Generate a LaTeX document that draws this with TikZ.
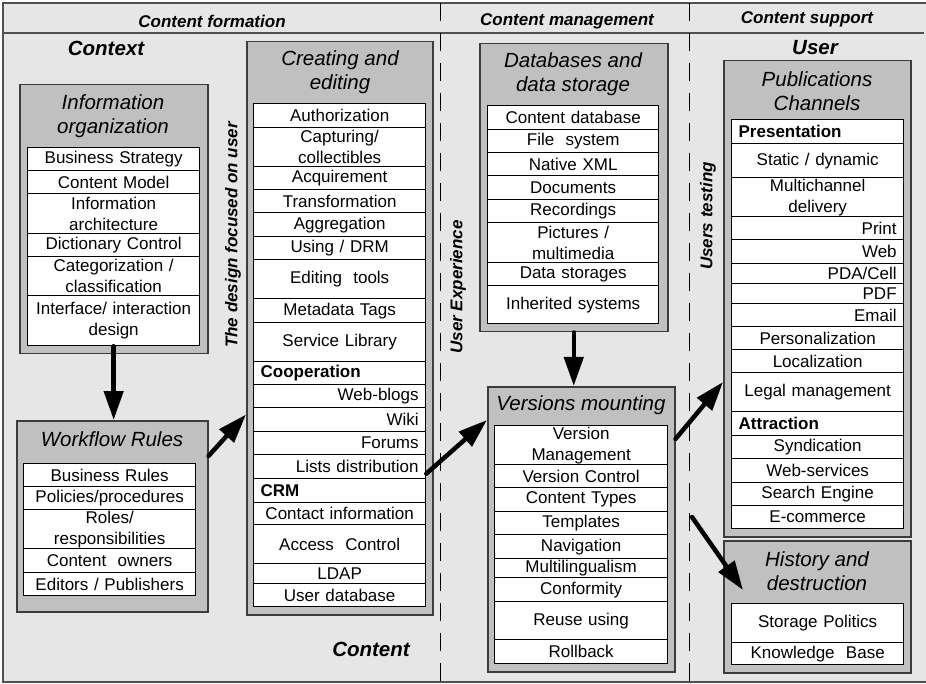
\documentclass[tikz,border=0pt]{standalone}
\usepackage{fontspec}
\setmainfont{Liberation Sans}
\usetikzlibrary{arrows.meta,calc}
\definecolor{bgc}{HTML}{E6E6E6}
\definecolor{boxfill}{HTML}{C0C0C0}
\definecolor{boxline}{HTML}{3C3C3C}
\definecolor{frameline}{HTML}{505050}
\tikzset{
  row/.style={draw=black, fill=white, line width=1.3pt, inner ysep=0pt, font=\fontsize{17}{21}\selectfont},
  cc/.style={align=center},
  rr/.style={align=right},
  bl/.style={align=left, font=\fontsize{17}{21}\selectfont\bfseries},
  cont/.style={draw=boxline, fill=boxfill, line width=1.5pt, inner sep=0pt},
  ttl/.style={font=\fontsize{20.5}{24.5}\selectfont\itshape, align=center, inner sep=0pt},
  sect/.style={font=\fontsize{20.5}{24}\selectfont\bfseries\itshape, inner sep=0pt},
  hdr/.style={font=\fontsize{17}{20}\selectfont\bfseries\itshape, inner sep=0pt},
  vlab/.style={font=\fontsize{17}{20}\selectfont\bfseries\itshape, rotate=90, inner sep=0pt},
  flow/.style={line width=4.5pt, -{Triangle[length=29pt,width=19pt]}, line cap=round},
  sepline/.style={draw=black, line width=1pt, dash pattern=on 18pt off 12pt},
}
\newcommand\rowbase[8]{%
  \pgfmathsetmacro\rbw{#6-#4-2*#3}\pgfmathsetmacro\rbh{#7-#5}%
  \node[row,#2,inner xsep=#3pt,text width=\rbw pt,minimum height=\rbh pt,anchor=north west] (#1) at (#4,#5) {#8};}
\newcommand\rowc[6]{\rowbase{#1}{cc}{2}{#2}{#3}{#4}{#5}{#6}}
\newcommand\rowr[6]{\rowbase{#1}{rr}{7}{#2}{#3}{#4}{#5}{#6}}
\newcommand\rowl[6]{\rowbase{#1}{bl}{7}{#2}{#3}{#4}{#5}{#6}}
\newcommand\contb[5]{%
  \pgfmathsetmacro\cbw{#4-#2}\pgfmathsetmacro\cbh{#5-#3}%
  \node[cont, minimum width=\cbw pt, minimum height=\cbh pt, anchor=north west] (#1) at (#2,#3) {};}

\begin{document}
\begin{tikzpicture}[x=1pt,y=-1pt]
\useasboundingbox (0,0) rectangle (926,684);
% frame and header
\draw[frameline, fill=bgc, line width=2pt] (3,3) rectangle (932,682);
\draw[frameline, line width=1.2pt] (3,33) -- (924,33);
\draw[sepline] (440,3) -- (440,682);
\draw[sepline] (689,3) -- (689,682);
\node[hdr] (h1) at (212,21) {Content formation};
\node[hdr] (h2) at (567,21) {Content management};
\node[hdr] (h3) at (807,19) {Content support};
\node[sect] (s1) at (106,48) {Context};
\node[sect] (s2) at (815,48) {User};
\node[sect] (s3) at (371,649) {Content};
\node[vlab] (v1) at (233,235) {The design focused on user};
\node[vlab] (v2) at (458,287) {User Experience};
\node[vlab] (v3) at (708,216) {Users testing};

% Information organization
\contb{io}{19}{84}{207}{353}
\node[ttl] (iot) at (113,116) {Information\\organization};
\rowc{io1}{27}{147}{199}{170}{Business Strategy}
\rowc{io2}{27}{170}{199}{193}{Content Model}
\rowc{io3}{27}{193}{199}{233}{Information\\architecture}
\rowc{io4}{27}{233}{199}{256}{Dictionary Control}
\rowc{io5}{27}{256}{199}{295}{Categorization /\\classification}
\rowc{io6}{27}{295}{199}{345}{Interface/ interaction\\design}

% Workflow rules
\contb{wf}{16}{420}{207}{611}
\node[ttl] (wft) at (112,439) {Workflow Rules};
\rowc{wf1}{23}{463}{195}{486}{Business Rules}
\rowc{wf2}{23}{486}{195}{509}{Policies/procedures}
\rowc{wf3}{23}{509}{195}{548}{Roles/\\responsibilities}
\rowc{wf4}{23}{548}{195}{572}{Content~ owners}
\rowc{wf5}{23}{572}{195}{595}{Editors / Publishers}

% Creating and editing
\contb{ce}{246}{41}{432}{614}
\node[ttl] (cet) at (340,72) {Creating and\\editing};
\rowc{ce1}{253}{103}{425}{127}{Authorization}
\rowc{ce2}{253}{127}{425}{166}{Capturing/\\collectibles}
\rowc{ce3}{253}{166}{425}{189}{Acquirement}
\rowc{ce4}{253}{189}{425}{212}{Transformation}
\rowc{ce5}{253}{212}{425}{236}{Aggregation}
\rowc{ce6}{253}{236}{425}{259}{Using / DRM}
\rowc{ce7}{253}{259}{425}{298}{Editing~ tools}
\rowc{ce8}{253}{298}{425}{322}{Metadata Tags}
\rowc{ce9}{253}{322}{425}{361}{Service Library}
\rowl{ce10}{253}{361}{425}{384}{Cooperation}
\rowr{ce11}{253}{384}{425}{407}{Web-blogs}
\rowr{ce12}{253}{407}{425}{431}{Wiki}
\rowr{ce13}{253}{431}{425}{454}{Forums}
\rowr{ce14}{253}{454}{425}{478}{Lists distribution}
\rowl{ce15}{253}{478}{425}{502}{CRM}
\rowc{ce16}{253}{502}{425}{524}{Contact information}
\rowc{ce17}{253}{524}{425}{563}{Access~ Control}
\rowc{ce18}{253}{563}{425}{583}{LDAP}
\rowc{ce19}{253}{583}{425}{606}{User database}

% Databases and data storage
\contb{db}{479}{43}{667}{331}
\node[ttl] (dbt) at (573,74) {Databases and\\data storage};
\rowc{db1}{487}{105}{658}{129}{Content database}
\rowc{db2}{487}{129}{658}{152}{File~ system}
\rowc{db3}{487}{152}{658}{175}{Native XML}
\rowc{db4}{487}{175}{658}{199}{Documents}
\rowc{db5}{487}{199}{658}{222}{Recordings}
\rowc{db6}{487}{222}{658}{262}{Pictures /\\multimedia}
\rowc{db7}{487}{262}{658}{285}{Data storages}
\rowc{db8}{487}{285}{658}{323}{Inherited systems}

% Versions mounting
\contb{vm}{487}{386}{674}{671}
\node[ttl] (vmt) at (581,405) {Versions mounting};
\rowc{vm1}{494}{425}{667}{464}{Version\\Management}
\rowc{vm2}{494}{464}{667}{487}{Version Control}
\rowc{vm3}{494}{487}{667}{511}{Content Types}
\rowc{vm4}{494}{511}{667}{534}{Templates}
\rowc{vm5}{494}{534}{667}{558}{Navigation}
\rowc{vm6}{494}{558}{667}{577}{Multilingualism}
\rowc{vm7}{494}{577}{667}{601}{Conformity}
\rowc{vm8}{494}{601}{667}{639}{Reuse using}
\rowc{vm9}{494}{639}{667}{663}{Rollback}

% Publications Channels
\contb{pc}{723}{60}{910}{536}
\node[ttl] (pct) at (817,91) {Publications\\Channels};
\rowl{pc1}{731}{119}{903}{143}{Presentation}
\rowc{pc2}{731}{143}{903}{177}{Static / dynamic}
\rowc{pc3}{731}{177}{903}{216}{Multichannel\\delivery}
\rowr{pc4}{731}{216}{903}{239}{Print}
\rowr{pc5}{731}{239}{903}{263}{Web}
\rowr{pc6}{731}{263}{903}{283}{PDA/Cell}
\rowr{pc7}{731}{283}{903}{303}{PDF}
\rowr{pc8}{731}{303}{903}{326}{Email}
\rowc{pc9}{731}{326}{903}{349}{Personalization}
\rowc{pc10}{731}{349}{903}{372}{Localization}
\rowc{pc11}{731}{372}{903}{411}{Legal management}
\rowl{pc12}{731}{411}{903}{435}{Attraction}
\rowc{pc13}{731}{435}{903}{458}{Syndication}
\rowc{pc14}{731}{458}{903}{482}{Web-services}
\rowc{pc15}{731}{482}{903}{505}{Search Engine}
\rowc{pc16}{731}{505}{903}{528}{E-commerce}

% History and destruction
\contb{hd}{723}{540}{910}{672}
\node[ttl] (hdt) at (817,571) {History and\\destruction};
\rowc{hd1}{731}{603}{903}{642}{Storage Politics}
\rowc{hd2}{731}{642}{903}{664}{Knowledge~ Base}

% arrows
\draw[flow] (io6.south) -- (io6.south |- wf.north);
\draw[flow] ([yshift=-36pt]wf.north east) -- ([yshift=201pt]ce.south west);
\draw[flow] ([yshift=-7pt]ce14.east) -- ([yshift=-34pt]vm.north west);
\draw[flow] (db.south) -- (db.south |- vm.north);
\draw[flow] ([yshift=-53pt]vm.north east) -- ([yshift=-322pt]pc.north west);
\coordinate (hs) at (692,517);
\draw[flow] (hs) -- ([xshift=20pt,yshift=-50pt]hd.north west);
\end{tikzpicture}
\end{document}
